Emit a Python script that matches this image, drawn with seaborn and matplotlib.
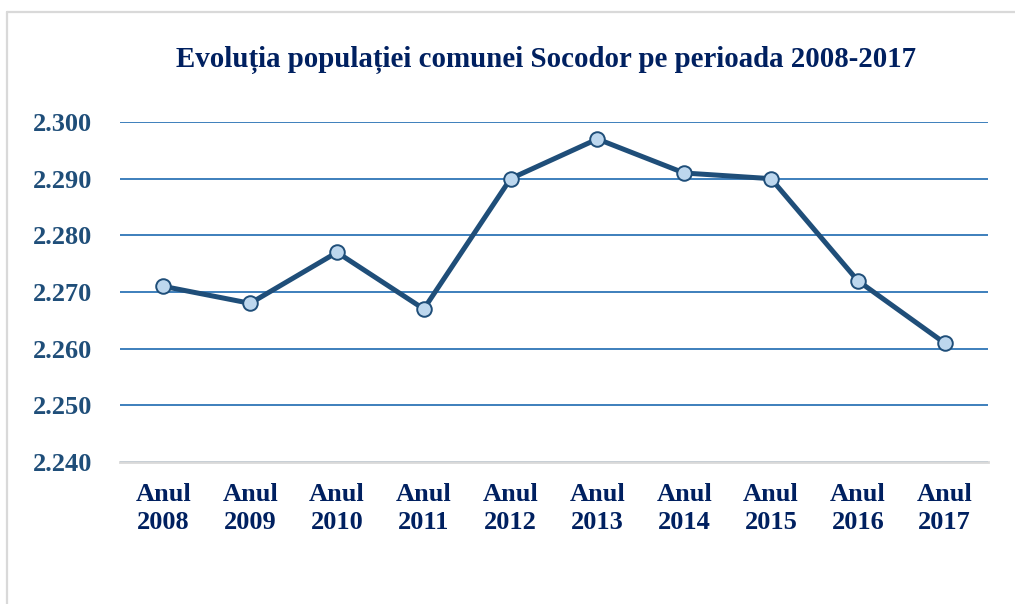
import matplotlib
matplotlib.use("Agg")
import matplotlib.pyplot as plt
from matplotlib.lines import Line2D
from matplotlib.ticker import FuncFormatter, MultipleLocator
import seaborn as sns
import pandas as pd

# Data
years = ["2008", "2009", "2010", "2011", "2012", "2013", "2014", "2015", "2016", "2017"]
categories = ["Anul\n" + y for y in years]
population = [2271, 2268, 2277, 2267, 2290, 2297, 2291, 2290, 2272, 2261]
title = "Evoluția populației comunei Socodor pe perioada 2008-2017"

df = pd.DataFrame({"an": categories, "populatie": population})

sns.set_theme(style="white")
plt.rcParams["font.family"] = ["Liberation Serif", "DejaVu Serif"]

fig = plt.figure(figsize=(10.15, 6.04), dpi=100)
W, H = 1015, 604
ax = fig.add_axes([120 / W, 1 - 462 / H, (988 - 120) / W, (462 - 122) / H])

line_col = "#1F4E79"
sns.lineplot(data=df, x="an", y="populatie", ax=ax, color=line_col, linewidth=3.6,
             marker="o", markersize=10.5, markerfacecolor="#BDD7EE",
             markeredgecolor=line_col, markeredgewidth=1.4, sort=False)

ax.set_xlim(-0.5, len(categories) - 0.5)
ax.set_ylim(2240, 2300)
ax.yaxis.set_major_locator(MultipleLocator(10))
ax.yaxis.set_major_formatter(FuncFormatter(lambda v, p: f"{int(round(v)):,}".replace(",", ".")))
ax.grid(axis="y", color="#2E75B6", linewidth=1.3)
ax.grid(axis="x", visible=False)
ax.set_axisbelow(True)
for s in ["top", "right", "left"]:
    ax.spines[s].set_visible(False)
ax.spines["bottom"].set_color("#D9D9D9")
ax.spines["bottom"].set_linewidth(2)
ax.spines["bottom"].set_zorder(3)
ax.set_xlabel("")
ax.set_ylabel("")
ax.tick_params(axis="y", length=0, pad=20, labelsize=19, labelcolor="#1F4E79")
ax.tick_params(axis="x", length=0, pad=15, labelsize=19, labelcolor="#002060")
for t in ax.get_yticklabels() + ax.get_xticklabels():
    t.set_fontweight("bold")
for t in ax.get_xticklabels():
    t.set_linespacing(1.3)

fig.text(546 / W, 1 - 60 / H, title, ha="center", va="center", fontsize=20.8,
         fontweight="bold", color="#002060")

# outer frame
fig.add_artist(Line2D([7 / W, 7 / W], [0, 1 - 12 / H], transform=fig.transFigure,
                      color="#D9D9D9", linewidth=1.6))
fig.add_artist(Line2D([7 / W, 1], [1 - 12 / H, 1 - 12 / H], transform=fig.transFigure,
                      color="#D9D9D9", linewidth=1.6))

fig.savefig("out.png", dpi=100, facecolor="white")
